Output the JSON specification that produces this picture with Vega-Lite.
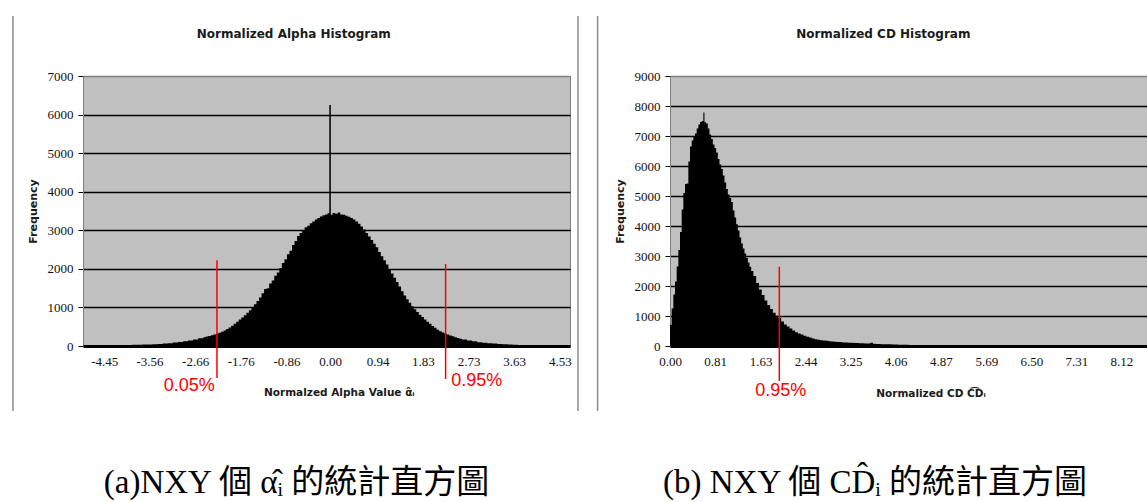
{
  "$schema": "https://vega.github.io/schema/vega-lite/v6.json",
  "background": "white",
  "padding": {"left": 11, "top": 14, "right": 0, "bottom": 0},
  "spacing": 16,
  "config": {
    "view": {"fill": "#c0c0c0", "stroke": "#808080", "strokeWidth": 1},
    "axis": {"labelFont": "Liberation Serif", "labelFontSize": 13, "labelColor": "#111111", "titleFont": "DejaVu Sans", "titleFontWeight": "bold", "titleColor": "#1a1a1a", "tickCount": 30}
  },
  "hconcat": [
    {
      "width": 487,
      "height": 270,
      "title": {"text": "(a)NXY 個 α\u0302\u1d62 的統計直方圖", "orient": "bottom", "anchor": "middle", "frame": "group", "dx": -30, "offset": 55, "font": "Liberation Serif, Noto Sans CJK TC", "fontSize": 33, "fontWeight": "normal", "color": "#000000"},
      "layer": [
        {
          "data": {"values": [
            {"x":-4.87,"y":12},{"x":-4.8,"y":14},{"x":-4.7,"y":15},{"x":-4.6,"y":16},{"x":-4.5,"y":18},{"x":-4.4,"y":19},{"x":-4.3,"y":21},{"x":-4.2,"y":23},{"x":-4.1,"y":25},{"x":-4.0,"y":28},{"x":-3.9,"y":31},{"x":-3.8,"y":34},{"x":-3.7,"y":38},{"x":-3.6,"y":42},{"x":-3.5,"y":48},{"x":-3.4,"y":55},{"x":-3.3,"y":63},{"x":-3.2,"y":74},{"x":-3.1,"y":88},{"x":-3.0,"y":104},{"x":-2.9,"y":122},{"x":-2.8,"y":142},{"x":-2.7,"y":170},{"x":-2.6,"y":200},
            {"x":-2.5,"y":230},{"x":-2.45,"y":245},{"x":-2.4,"y":262},{"x":-2.35,"y":280},{"x":-2.3,"y":296},{"x":-2.25,"y":320},{"x":-2.2,"y":345},{"x":-2.15,"y":372},{"x":-2.1,"y":405},{"x":-2.05,"y":440},{"x":-2.0,"y":478},{"x":-1.95,"y":525},{"x":-1.9,"y":578},{"x":-1.85,"y":630},{"x":-1.8,"y":690},{"x":-1.75,"y":742},{"x":-1.7,"y":800},{"x":-1.65,"y":860},{"x":-1.6,"y":930},{"x":-1.55,"y":1000},{"x":-1.5,"y":1080},{"x":-1.45,"y":1165},{"x":-1.4,"y":1260},{"x":-1.35,"y":1370},{"x":-1.3,"y":1480},{"x":-1.25,"y":1500},{"x":-1.2,"y":1620},{"x":-1.15,"y":1700},{"x":-1.1,"y":1820},{"x":-1.05,"y":1905},{"x":-1.0,"y":2020},{"x":-0.95,"y":2150},{"x":-0.9,"y":2250},{"x":-0.85,"y":2380},{"x":-0.8,"y":2470},{"x":-0.75,"y":2620},{"x":-0.7,"y":2720},{"x":-0.65,"y":2850},{"x":-0.6,"y":2930},{"x":-0.55,"y":3000},{"x":-0.5,"y":3080},{"x":-0.45,"y":3120},{"x":-0.4,"y":3180},{"x":-0.35,"y":3230},{"x":-0.3,"y":3280},{"x":-0.25,"y":3320},{"x":-0.2,"y":3360},{"x":-0.15,"y":3390},{"x":-0.1,"y":3410},{"x":-0.05,"y":3440},{"x":-0.015,"y":6250},{"x":0.015,"y":3400},{"x":0.05,"y":3450},{"x":0.1,"y":3430},{"x":0.15,"y":3460},{"x":0.2,"y":3410},{"x":0.25,"y":3400},{"x":0.3,"y":3380},{"x":0.35,"y":3350},{"x":0.4,"y":3320},{"x":0.45,"y":3280},{"x":0.5,"y":3230},{"x":0.55,"y":3170},{"x":0.6,"y":3100},{"x":0.65,"y":3020},{"x":0.7,"y":2930},{"x":0.75,"y":2840},{"x":0.8,"y":2750},{"x":0.85,"y":2650},{"x":0.9,"y":2560},{"x":0.95,"y":2440},{"x":1.0,"y":2330},{"x":1.05,"y":2220},{"x":1.1,"y":2110},{"x":1.15,"y":1990},{"x":1.2,"y":1880},{"x":1.25,"y":1770},{"x":1.3,"y":1660},{"x":1.35,"y":1540},{"x":1.4,"y":1420},{"x":1.45,"y":1310},{"x":1.5,"y":1210},{"x":1.55,"y":1120},{"x":1.6,"y":1030},{"x":1.65,"y":950},{"x":1.7,"y":880},{"x":1.75,"y":810},{"x":1.8,"y":750},{"x":1.85,"y":690},{"x":1.9,"y":630},{"x":1.95,"y":575},{"x":2.0,"y":520},{"x":2.05,"y":470},{"x":2.1,"y":420},{"x":2.15,"y":385},{"x":2.2,"y":350},{"x":2.25,"y":325},{"x":2.3,"y":300},{"x":2.35,"y":275},{"x":2.4,"y":250},{"x":2.45,"y":228},{"x":2.5,"y":205},{"x":2.55,"y":188},
            {"x":2.6,"y":170},{"x":2.7,"y":143},{"x":2.8,"y":120},{"x":2.9,"y":100},{"x":3.0,"y":85},{"x":3.1,"y":74},{"x":3.2,"y":64},{"x":3.3,"y":54},{"x":3.4,"y":46},{"x":3.5,"y":40},{"x":3.6,"y":34},{"x":3.7,"y":29},{"x":3.8,"y":25},{"x":3.9,"y":22},{"x":4.0,"y":20},{"x":4.1,"y":18},{"x":4.2,"y":16},{"x":4.3,"y":15},{"x":4.4,"y":14},{"x":4.5,"y":13},{"x":4.6,"y":12},{"x":4.73,"y":12}
          ]},
          "mark": {"type": "area", "interpolate": "step-after", "color": "#000000", "opacity": 1},
          "encoding": {
            "x": {"field": "x", "type": "quantitative", "scale": {"domain": [-4.87, 4.73], "nice": false, "zero": false},
              "axis": {"title": "Normalzed Alpha Value  α\u0302\u1d62", "values": [-4.45, -3.56, -2.66, -1.76, -0.86, 0, 0.94, 1.83, 2.73, 3.63, 4.53], "tickCount": 30,
                "labelExpr": "datum.value < 0 ? '-' + format(-datum.value, '.2f') : format(datum.value, '.2f')",
                "grid": false, "ticks": false, "domainColor": "#000000", "domainWidth": 3, "labelPadding": 9, "labelFlush": false, "labelOverlap": false,
                "titleFontSize": 10.5, "titleX": 255.8, "titleY": 46, "titleBaseline": "middle", "titleAlign": "center"}},
            "y": {"field": "y", "type": "quantitative", "scale": {"domain": [0, 7000], "nice": false},
              "axis": {"title": "Frequency", "values": [0, 1000, 2000, 3000, 4000, 5000, 6000, 7000], "tickCount": 30, "format": "d", "labelOverlap": false,
                "grid": true, "gridColor": {"condition": {"test": "datum.value >= 7000", "value": "#808080"}, "value": "#000000"}, "gridWidth": 1.3,
                "tickSize": 5, "tickColor": "#000000", "labelPadding": 5, "domainColor": "#808080", "domainWidth": 1,
                "titleFontSize": 11, "titleX": -50, "titleBaseline": "middle"}}
          }
        },
        {
          "data": {"values": [{"x": -2.229, "y": 2222, "y2": -830}, {"x": 2.278, "y": 2126, "y2": -856}]},
          "mark": {"type": "rule", "color": "#ff0000", "strokeWidth": 1.5},
          "encoding": {"x": {"field": "x", "type": "quantitative"}, "y": {"field": "y", "type": "quantitative"}, "y2": {"field": "y2"}}
        },
        {
          "data": {"values": [{"x": -2.775, "y": -1037, "t": "0.05%"}, {"x": 2.891, "y": -907, "t": "0.95%"}]},
          "mark": {"type": "text", "color": "#ff0000", "font": "Liberation Sans", "fontSize": 18, "align": "center", "baseline": "middle"},
          "encoding": {"x": {"field": "x", "type": "quantitative"}, "y": {"field": "y", "type": "quantitative"}, "text": {"field": "t"}}
        },
        {
          "data": {"values": [{"x": -6.25, "y": 8556, "y2": -1685}, {"x": 4.887, "y": 8556, "y2": -1685}]},
          "mark": {"type": "rule", "color": "#8c8c8c", "strokeWidth": 1.5},
          "encoding": {"x": {"field": "x", "type": "quantitative"}, "y": {"field": "y", "type": "quantitative"}, "y2": {"field": "y2"}}
        },
        {
          "data": {"values": [{"x": -0.715, "y": 8089, "t": "Normalized Alpha Histogram"}]},
          "mark": {"type": "text", "color": "#1a1a1a", "font": "DejaVu Sans", "fontWeight": "bold", "fontSize": 12, "align": "center", "baseline": "middle"},
          "encoding": {"x": {"field": "x", "type": "quantitative"}, "y": {"field": "y", "type": "quantitative"}, "text": {"field": "t"}}
        }
      ]
    },
    {
      "width": 480,
      "height": 270,
      "title": {"text": "(b) NXY 個 CD\u0302\u1d62 的統計直方圖", "orient": "bottom", "anchor": "middle", "frame": "group", "dx": -35, "offset": 55, "font": "Liberation Serif, Noto Sans CJK TC", "fontSize": 33, "fontWeight": "normal", "color": "#000000"},
      "layer": [
        {
          "data": {"values": [
            {"x":0,"y":700},{"x":0.03,"y":1250},{"x":0.06,"y":1720},{"x":0.09,"y":2150},{"x":0.12,"y":2650},{"x":0.15,"y":3200},{"x":0.18,"y":3800},{"x":0.21,"y":4550},{"x":0.24,"y":5100},{"x":0.27,"y":5400},{"x":0.3,"y":5420},{"x":0.33,"y":6150},{"x":0.36,"y":6650},{"x":0.39,"y":6850},{"x":0.42,"y":6980},{"x":0.45,"y":7080},{"x":0.48,"y":7250},{"x":0.51,"y":7380},{"x":0.54,"y":7470},{"x":0.57,"y":7500},{"x":0.6,"y":7780},{"x":0.62,"y":7460},{"x":0.65,"y":7420},{"x":0.68,"y":7250},{"x":0.71,"y":7050},{"x":0.74,"y":6900},{"x":0.77,"y":6720},{"x":0.8,"y":6600},{"x":0.83,"y":6450},{"x":0.86,"y":6230},{"x":0.89,"y":6050},{"x":0.92,"y":5900},{"x":0.95,"y":5680},{"x":0.98,"y":5450},{"x":1.01,"y":5230},{"x":1.04,"y":5050},{"x":1.07,"y":4930},{"x":1.1,"y":4800},{"x":1.13,"y":4520},{"x":1.16,"y":4280},{"x":1.19,"y":4060},{"x":1.22,"y":3850},{"x":1.25,"y":3620},{"x":1.28,"y":3420},{"x":1.31,"y":3250},{"x":1.34,"y":3080},{"x":1.37,"y":2930},{"x":1.4,"y":2780},{"x":1.43,"y":2640},{"x":1.46,"y":2500},
            {"x":1.5,"y":2330},{"x":1.55,"y":2100},{"x":1.6,"y":1880},{"x":1.65,"y":1700},{"x":1.7,"y":1520},{"x":1.75,"y":1370},{"x":1.8,"y":1230},{"x":1.85,"y":1110},{"x":1.9,"y":1010},{"x":1.95,"y":930},{"x":2.0,"y":820},{"x":2.05,"y":720},{"x":2.1,"y":650},{"x":2.15,"y":580},{"x":2.2,"y":520},{"x":2.25,"y":460},{"x":2.3,"y":420},{"x":2.35,"y":380},{"x":2.4,"y":345},{"x":2.45,"y":310},{"x":2.5,"y":280},{"x":2.55,"y":250},{"x":2.6,"y":228},{"x":2.65,"y":210},{"x":2.7,"y":195},{"x":2.75,"y":185},{"x":2.8,"y":175},{"x":2.85,"y":160},{"x":2.9,"y":150},{"x":2.95,"y":140},
            {"x":3.0,"y":130},{"x":3.1,"y":118},{"x":3.2,"y":108},{"x":3.3,"y":98},{"x":3.4,"y":90},{"x":3.5,"y":82},{"x":3.6,"y":110},{"x":3.65,"y":75},{"x":3.7,"y":70},{"x":3.8,"y":62},{"x":3.9,"y":55},{"x":4.0,"y":48},
            {"x":4.1,"y":42},{"x":4.3,"y":36},{"x":4.5,"y":32},{"x":4.7,"y":28},{"x":4.9,"y":25},{"x":5.1,"y":22},{"x":5.3,"y":20},{"x":5.5,"y":18},{"x":5.7,"y":16},{"x":5.9,"y":15},{"x":6.1,"y":14},{"x":6.3,"y":13},{"x":6.5,"y":12},{"x":6.7,"y":11},{"x":6.9,"y":10},{"x":7.1,"y":10},{"x":7.3,"y":9},{"x":7.5,"y":9},{"x":7.7,"y":8},{"x":7.9,"y":8},{"x":8.1,"y":8},{"x":8.3,"y":7},{"x":8.5,"y":7},{"x":8.633,"y":7}
          ]},
          "mark": {"type": "area", "interpolate": "step-after", "color": "#000000", "opacity": 1},
          "encoding": {
            "x": {"field": "x", "type": "quantitative", "scale": {"domain": [0, 8.633], "nice": false, "zero": false},
              "axis": {"title": "Normalized CD  C\u0361D\u1d62", "values": [0, 0.81, 1.63, 2.44, 3.25, 4.06, 4.87, 5.69, 6.5, 7.31, 8.12], "tickCount": 30,
                "labelExpr": "format(datum.value, '.2f')",
                "grid": false, "ticks": false, "domainColor": "#000000", "domainWidth": 3, "labelPadding": 9, "labelFlush": false, "labelOverlap": false,
                "titleFontSize": 10.5, "titleX": 260.5, "titleY": 47, "titleBaseline": "middle", "titleAlign": "center"}},
            "y": {"field": "y", "type": "quantitative", "scale": {"domain": [0, 9000], "nice": false},
              "axis": {"title": "Frequency", "values": [0, 1000, 2000, 3000, 4000, 5000, 6000, 7000, 8000, 9000], "tickCount": 30, "format": "d", "labelOverlap": false,
                "grid": true, "gridColor": {"condition": {"test": "datum.value >= 9000", "value": "#808080"}, "value": "#000000"}, "gridWidth": 1.3,
                "tickSize": 5, "tickColor": "#000000", "labelPadding": 5, "domainColor": "#808080", "domainWidth": 1,
                "titleFontSize": 11, "titleX": -50, "titleBaseline": "middle"}}
          }
        },
        {
          "data": {"values": [{"x": 1.966, "y": 2643, "y2": -1167}]},
          "mark": {"type": "rule", "color": "#ff0000", "strokeWidth": 1.5},
          "encoding": {"x": {"field": "x", "type": "quantitative"}, "y": {"field": "y", "type": "quantitative"}, "y2": {"field": "y2"}}
        },
        {
          "data": {"values": [{"x": 1.993, "y": -1500, "t": "0.95%"}]},
          "mark": {"type": "text", "color": "#ff0000", "font": "Liberation Sans", "fontSize": 18, "align": "center", "baseline": "middle"},
          "encoding": {"x": {"field": "x", "type": "quantitative"}, "y": {"field": "y", "type": "quantitative"}, "text": {"field": "t"}}
        },
        {
          "data": {"values": [{"x": -1.302, "y": 11000, "y2": -2167}]},
          "mark": {"type": "rule", "color": "#8c8c8c", "strokeWidth": 1.5},
          "encoding": {"x": {"field": "x", "type": "quantitative"}, "y": {"field": "y", "type": "quantitative"}, "y2": {"field": "y2"}}
        },
        {
          "data": {"values": [{"x": 3.836, "y": 10390, "t": "Normalized CD Histogram"}]},
          "mark": {"type": "text", "color": "#1a1a1a", "font": "DejaVu Sans", "fontWeight": "bold", "fontSize": 12, "align": "center", "baseline": "middle"},
          "encoding": {"x": {"field": "x", "type": "quantitative"}, "y": {"field": "y", "type": "quantitative"}, "text": {"field": "t"}}
        }
      ]
    }
  ]
}
